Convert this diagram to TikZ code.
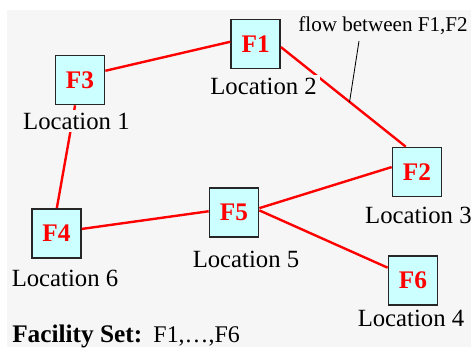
\documentclass[tikz,border=0pt]{standalone}
\usepackage{fontspec}
\setmainfont{Liberation Serif}
\usepackage{xcolor}
\definecolor{bggray}{HTML}{F6F6F6}
\definecolor{boxcyan}{HTML}{CCFFFF}
\begin{document}
\begin{tikzpicture}[
 fac/.style={draw=black!85,line width=1.2pt,fill=boxcyan,minimum size=1.225cm,inner sep=0pt,
   font=\fontsize{18}{20}\selectfont\bfseries,text=red},
 loc/.style={fill=bggray,inner sep=2pt,font=\fontsize{17.6}{19}\selectfont},
 link/.style={red,line width=1.7pt}]
\useasboundingbox (0,0) rectangle (11.775,8.675);
\fill[white] (0,0) rectangle (11.775,8.675);
\fill[bggray] (0.175,0) rectangle (11.775,8.425);
% facilities
\foreach \n/\x/\y in {F1/6.39/7.575,F3/2.0/6.675,F2/10.425/4.375,F5/5.85/3.36,F4/1.41/2.84,F6/10.325/1.66}{
 \node[fac] (\n) at (\x,\y){\n};}
% flows
\foreach \a/\b in {F3.20/F1.175,F3.259/F4.89,F2.169/F5.10,F4.10/F5.177,F5.5/F6.153}{
 \draw[link] (\a)--(\b);}
\draw[link] (F1.-7)-- coordinate[pos=0.55] (flowpt) (F2.114);
% locations
\foreach \i/\x/\y in {1/1.91/5.65,2/6.59/6.525,3/10.46/3.3,4/10.275/0.725,5/6.15/2.2,6/1.625/1.725}{
 \node[loc] (loc\i) at (\x,\y){Location \i};}
\node[font=\fontsize{15}{17}\selectfont] (flow) at (9.575,8.025){flow between F1,F2};
\coordinate (ptr) at (8.975,7.65);
\draw[black,line width=0.6pt] (ptr)--(flowpt);
\node[anchor=west,inner sep=0pt,font=\fontsize{18}{20}\selectfont] (facset) at (0.3,0.275)
  {\textbf{Facility Set:}\hspace{0.28cm}{\fontsize{17}{19}\selectfont F1,\ldots,F6}};
\end{tikzpicture}
\end{document}
